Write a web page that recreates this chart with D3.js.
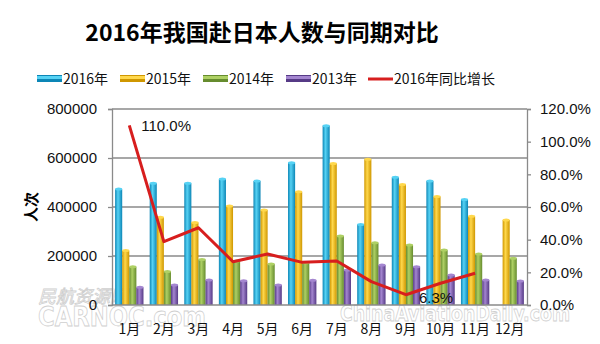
<!DOCTYPE html>
<html><head><meta charset="utf-8">
<script src="https://cdn.jsdelivr.net/npm/d3@7"></script>
<style>body{margin:0;background:#fff}svg{display:block;font-family:"Liberation Sans",Arial,"Noto Sans CJK SC",sans-serif}</style>
</head><body><svg id="c" width="600" height="344"></svg>
<script>
const months = ["1月","2月","3月","4月","5月","6月","7月","8月","9月","10月","11月","12月"];
const seriesNames = ["2016年","2015年","2014年","2013年"];
const v2016 = [473000,497000,497000,514000,506000,581000,732000,329000,521000,506000,431000,null];
const v2015 = [222000,358000,337000,404000,388000,462000,578000,595000,492000,443000,362000,347000];
const v2014 = [156000,137000,186000,180000,167000,172000,282000,254000,245000,224000,208000,191000];
const v2013 = [72000,82000,102000,99000,82000,101000,143000,163000,156000,122000,102000,98000];
const growth = [110.0,38.8,47.3,26.5,31.2,26.1,26.9,14.3,6.3,13.3,19.4,null];
const leftTicks = [0,200000,400000,600000,800000];
const rightTicks = [0,20,40,60,80,100,120];
const lineName = "2016年同比增长";

const svg = d3.select("#c");
const L=112,R=527,T=109,B=305;
const colors = [
  ["#0c86b6","#56d2f4"],
  ["#cf9700","#ffd84c"],
  ["#668c2e","#aed064"],
  ["#563a86","#a486d0"]
];
const defs = svg.append("defs");
colors.forEach((c,i)=>{
  const g = defs.append("linearGradient").attr("id","g"+i).attr("x1","0").attr("x2","1").attr("y1","0").attr("y2","0");
  g.append("stop").attr("offset","0").attr("stop-color",c[0]);
  g.append("stop").attr("offset","0.4").attr("stop-color",c[1]);
  g.append("stop").attr("offset","1").attr("stop-color",c[0]);
});
const x0 = d3.scaleBand().domain(months).range([L,R]).padding(0);
const x1 = d3.scaleBand().domain(seriesNames).range([x0.bandwidth()*0.09, x0.bandwidth()*0.91]).padding(0);
const y = d3.scaleLinear().domain([0,800000]).range([B,T]);
const y2 = d3.scaleLinear().domain([0,120]).range([B,T]);

// watermarks (behind chart text)
const wm = svg.append("g").attr("fill","#ffffff").attr("stroke","#cfcfcf").attr("stroke-width",0.8);
wm.append("text").attr("x",38).attr("y",303).attr("font-size",18).attr("font-family","'Noto Sans CJK SC',sans-serif").attr("font-style","italic").text("民航资源网");
wm.append("text").attr("x",38).attr("y",326).attr("font-size",26).attr("font-weight","bold").attr("font-family","'DejaVu Sans',sans-serif").attr("textLength",168).attr("lengthAdjust","spacingAndGlyphs").text("CARNOC.com");
wm.append("text").attr("x",340).attr("y",321).attr("font-size",21).attr("font-weight","bold").attr("font-family","'DejaVu Sans',sans-serif").attr("textLength",230).attr("lengthAdjust","spacingAndGlyphs").text("ChinaAviationDaily.com");

// title
svg.append("text").attr("x",262).attr("y",41).attr("text-anchor","middle")
  .attr("font-size",23).attr("font-weight","bold").attr("font-family","'Noto Sans CJK SC',sans-serif")
  .text("2016年我国赴日本人数与同期对比");

// gridlines
svg.append("g").selectAll("line").data(leftTicks.filter(d=>d>0)).join("line")
  .attr("x1",L).attr("x2",R).attr("y1",d=>y(d)).attr("y2",d=>y(d))
  .attr("stroke","#8a8a8a").attr("stroke-width",1.3);

// bars
const data = [v2016,v2015,v2014,v2013];
const gb = svg.append("g");
months.forEach((m,mi)=>{
  data.forEach((arr,si)=>{
    const v = arr[mi]; if(v==null) return;
    const xx = x0(m)+x1(seriesNames[si]);
    gb.append("rect").attr("x",xx).attr("y",y(v)).attr("width",x1.bandwidth()).attr("height",B-y(v))
      .attr("fill","url(#g"+si+")");
    gb.append("ellipse").attr("cx",xx+x1.bandwidth()/2).attr("cy",y(v)).attr("rx",x1.bandwidth()/2).attr("ry",1.5)
      .attr("fill",colors[si][1]);
  });
});

// axes
const ax = d3.axisLeft(y).tickValues(leftTicks).tickSize(4).tickFormat(d3.format("d"));
const gl = svg.append("g").attr("transform",`translate(${L},0)`).call(ax);
const ar = d3.axisRight(y2).tickValues(rightTicks).tickSize(4).tickFormat(d=>d3.format(".1f")(d)+"%");
const gr = svg.append("g").attr("transform",`translate(${R},0)`).call(ar);
const axb = d3.axisBottom(x0).tickSize(0);
const gbx = svg.append("g").attr("transform",`translate(0,${B})`).call(axb);
[gl,gr,gbx].forEach(g=>{
  g.selectAll("path,line").attr("stroke","#8a8a8a").attr("stroke-width",1.3);
  g.selectAll("text").attr("fill","#111").attr("font-size",15);
});
gl.selectAll("text").attr("x",-15);
gr.selectAll("text").attr("x",13);
gbx.select("path").attr("d",`M${L},0H${R}`);
gbx.selectAll("text").attr("font-size",14).attr("font-family","'Noto Sans CJK SC',sans-serif").attr("dy",null).attr("y",29);

// y title
svg.append("text").attr("transform","translate(37,207) rotate(-90)").attr("text-anchor","middle")
  .attr("font-size",15).attr("font-weight","bold").attr("font-family","'Noto Sans CJK SC',sans-serif").text("人次");

// line
const line = d3.line().defined(d=>d.v!=null).x(d=>x0(d.m)+x0.bandwidth()/2).y(d=>y2(d.v));
const ld = months.map((m,i)=>({m,v:growth[i]}));
svg.append("path").datum(ld).attr("d",line).attr("fill","none").attr("stroke","#d71e1e").attr("stroke-width",3).attr("stroke-linejoin","round");

// data labels
svg.append("text").attr("x",x0(months[0])+x0.bandwidth()/2+12).attr("y",y2(growth[0])+6).attr("font-size",15).attr("fill","#111")
  .text(d3.format(".1f")(growth[0])+"%");
svg.append("text").attr("x",x0(months[8])+x0.bandwidth()/2+13).attr("y",y2(growth[8])+8).attr("font-size",15).attr("fill","#111")
  .text(d3.format(".1f")(growth[8])+"%");

// legend
const legX = [37,120,203,286,368];
const lg = svg.append("g").attr("font-family","'Noto Sans CJK SC',sans-serif");
seriesNames.forEach((s,i)=>{
  lg.append("rect").attr("x",legX[i]).attr("y",75).attr("width",25).attr("height",7).attr("fill",colors[i][0]);
  lg.append("rect").attr("x",legX[i]).attr("y",76).attr("width",25).attr("height",3).attr("fill",colors[i][1]);
  lg.append("text").attr("x",legX[i]+26).attr("y",84).attr("font-size",14).attr("fill","#111").text(s);
});
lg.append("line").attr("x1",legX[4]).attr("x2",legX[4]+25).attr("y1",79).attr("y2",79).attr("stroke","#d71e1e").attr("stroke-width",3);
lg.append("text").attr("x",legX[4]+26).attr("y",84).attr("font-size",14).attr("fill","#111").text(lineName);
</script></body></html>
